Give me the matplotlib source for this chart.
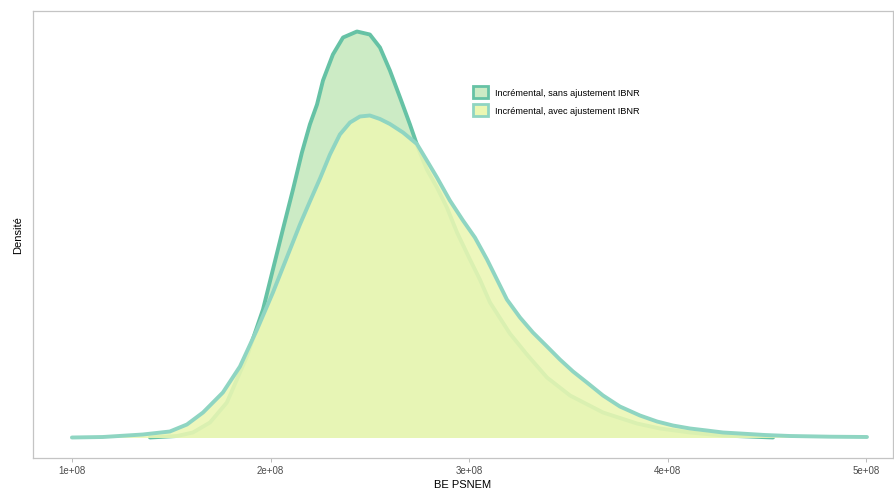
#!/usr/bin/env python3
"""
Densite du BE PSNEM : incremental sans / avec ajustement IBNR
"""

import matplotlib
matplotlib.use('Agg')
import matplotlib.pyplot as plt
import matplotlib.patches as mpatches

plt.rcParams['font.family'] = ['Liberation Sans', 'DejaVu Sans']

# BE PSNEM (en 1e8) et densite (unite arbitraire)
x_sans = [1.393, 1.529, 1.609, 1.695, 1.780, 1.881, 1.962, 2.012, 2.062,
          2.113, 2.158, 2.198, 2.234, 2.264, 2.314, 2.365, 2.435, 2.500, 2.551,
          2.601, 2.652, 2.702, 2.742, 2.787, 2.838, 2.888, 2.939, 3.004, 3.054,
          3.105, 3.205, 3.291, 3.392, 3.508, 3.674, 3.845, 3.961, 4.112, 4.278,
          4.530]
d_sans = [0.0, 1.5, 5, 15, 35, 81, 128, 168, 208,
          248, 285, 313, 333, 357, 383, 400, 406, 403, 390,
          367, 340, 313, 290, 268, 250, 230, 205, 178, 158,
          135, 104, 83, 60, 42, 25, 14, 9, 5, 2,
          0.0]

x_avec = [1.000, 1.156, 1.357, 1.493, 1.579, 1.660, 1.760, 1.846, 1.932, 2.012,
          2.062, 2.148, 2.198, 2.249, 2.299, 2.349, 2.400, 2.450, 2.500, 2.551,
          2.601, 2.667, 2.737, 2.787, 2.838, 2.903, 2.969, 3.029, 3.090, 3.140,
          3.190, 3.256, 3.321, 3.392, 3.457, 3.523, 3.593, 3.674, 3.759, 3.860,
          3.946, 4.026, 4.112, 4.197, 4.278, 4.364, 4.489, 4.615, 4.817, 5.003]
d_avec = [0.0, 0.5, 3, 6, 13, 25, 45, 71, 108, 145,
          170, 213, 236, 259, 283, 303, 315, 321, 322, 318.5,
          313.5, 305, 293.5, 277, 260, 237, 217, 200, 178, 158,
          138, 120, 105, 91, 78, 66, 55, 42, 31, 22,
          16, 12, 9, 7, 5, 4, 2.5, 1.5, 0.8, 0.5]

tick_vals = [1, 2, 3, 4, 5]
tick_labels = ['1e+08', '2e+08', '3e+08', '4e+08', '5e+08']
series_labels = ['Incrémental, sans ajustement IBNR',
                 'Incrémental, avec ajustement IBNR']

fill_sans, line_sans = '#ccebc5', '#66c2a5'
fill_avec, line_avec = '#ebf7b3', '#8fd5c2'

fig = plt.figure(figsize=(8.94, 4.89), dpi=100)
ax = fig.add_axes([33 / 894, 30 / 489, 860 / 894, 447 / 489])

ax.fill_between(x_sans, 0, d_sans, color=fill_sans, lw=0, zorder=1)
ax.plot(x_sans, d_sans, color=line_sans, lw=2.8, solid_capstyle='round',
        solid_joinstyle='round', zorder=2)
ax.fill_between(x_avec, 0, d_avec, color=fill_avec, lw=0, alpha=0.88, zorder=3)
ax.plot(x_avec, d_avec, color=line_avec, lw=2.8, solid_capstyle='round',
        solid_joinstyle='round', zorder=4)

ax.set_xlim(0.804, 5.134)
ax.set_ylim(-20.5, 426.5)

ax.set_xticks(tick_vals)
ax.set_xticklabels(tick_labels, fontsize=7, color='#4d4d4d')
ax.tick_params(axis='x', length=3, width=0.6, color='#b0b0b0', pad=2)
ax.set_yticks([])
for sp in ax.spines.values():
    sp.set_color('#c4c4c4')
    sp.set_linewidth(0.9)

ax.set_xlabel('BE PSNEM', fontsize=8, labelpad=3)
ax.set_ylabel('Densité', fontsize=8, labelpad=7)

handles = [mpatches.Patch(facecolor=fill_sans, edgecolor=line_sans, linewidth=2),
           mpatches.Patch(facecolor=fill_avec, edgecolor=line_avec, linewidth=2)]
ax.legend(handles, series_labels, loc='upper left', bbox_to_anchor=(0.512, 0.832),
          frameon=False, fontsize=6.6, handlelength=1.55, handleheight=1.55,
          handletextpad=0.8, labelspacing=0.75, borderpad=0, borderaxespad=0)

plt.savefig('out.png', dpi=100)
